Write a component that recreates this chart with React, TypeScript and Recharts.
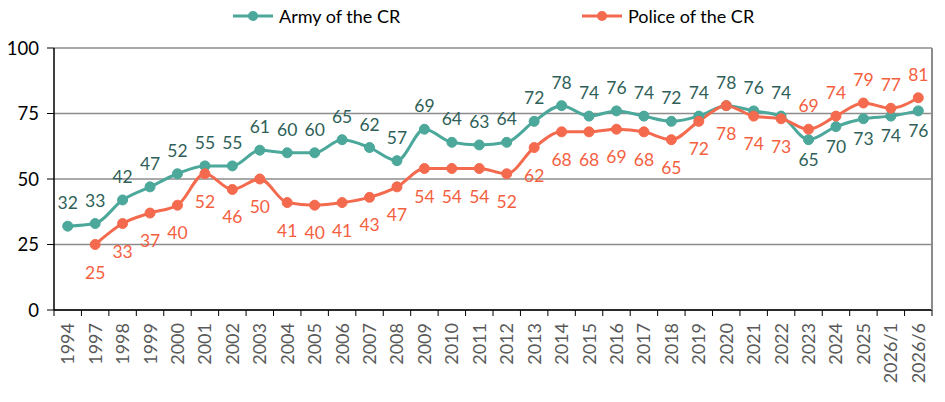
import React from "react";
import {
  LineChart,
  Line,
  XAxis,
  YAxis,
  CartesianGrid,
} from "recharts";

const years = [
  "1994", "1997", "1998", "1999", "2000", "2001", "2002", "2003", "2004",
  "2005", "2006", "2007", "2008", "2009", "2010", "2011", "2012", "2013",
  "2014", "2015", "2016", "2017", "2018", "2019", "2020", "2021", "2022",
  "2023", "2024", "2025", "2026/1", "2026/6",
];

const army = [
  32, 33, 42, 47, 52, 55, 55, 61, 60, 60, 65, 62, 57, 69, 64, 63, 64, 72,
  78, 74, 76, 74, 72, 74, 78, 76, 74, 65, 70, 73, 74, 76,
];

const police: (number | null)[] = [
  null, 25, 33, 37, 40, 52, 46, 50, 41, 40, 41, 43, 47, 54, 54, 54, 52, 62,
  68, 68, 69, 68, 65, 72, 78, 74, 73, 69, 74, 79, 77, 81,
];

const yTicks = [0, 25, 50, 75, 100];

const data = years.map((year, i) => ({
  year,
  army: army[i],
  police: police[i],
}));

const W = 945;
const H = 402;
const PLOT = { top: 48, right: 13, bottom: 92, left: 54 };
const BAND = (W - PLOT.left - PLOT.right) / years.length;
const AXIS_Y = H - PLOT.bottom;

const TEAL = "#4BA89B";
const TEAL_TEXT = "#2F5F58";
const ORANGE = "#F46A4E";
const ORANGE_TEXT = "#F4603F";
const FONT = "Lato, 'Open Sans', sans-serif";

function armyAbove(i: number) {
  const p = police[i];
  return p == null || army[i] >= p;
}

const ArmyLabel = (props: any) => {
  const { x, y, index, value } = props;
  const above = armyAbove(index);
  return (
    <text
      x={x}
      y={above ? y - 17 : y + 26}
      textAnchor="middle"
      fill={TEAL_TEXT}
      fontSize={17.5}
      fontFamily={FONT}
    >
      {value}
    </text>
  );
};

const PoliceLabel = (props: any) => {
  const { x, y, index, value } = props;
  if (value == null) return null;
  const above = !armyAbove(index);
  return (
    <text
      x={x}
      y={above ? y - 17 : y + 34}
      textAnchor="middle"
      fill={ORANGE_TEXT}
      fontSize={17.5}
      fontFamily={FONT}
    >
      {value}
    </text>
  );
};

const YearTick = (props: any) => {
  const { x, payload, index } = props;
  return (
    <g>
      {index === 0 && (
        <line x1={x - BAND / 2} x2={x - BAND / 2} y1={AXIS_Y} y2={AXIS_Y + 6} stroke="#000" />
      )}
      <line x1={x + BAND / 2} x2={x + BAND / 2} y1={AXIS_Y} y2={AXIS_Y + 6} stroke="#000" />
      <text
        transform={`translate(${x + 6.5},${AXIS_Y + 13}) rotate(-90)`}
        textAnchor="end"
        fill="#595959"
        fontSize={18}
        fontFamily={FONT}
      >
        {payload.value}
      </text>
    </g>
  );
};

const legendItems = [
  { name: "Army of the CR", color: TEAL, left: 233 },
  { name: "Police of the CR", color: ORANGE, left: 582 },
];

export default function App() {
  return (
    <div style={{ position: "absolute", left: 0, top: 0, width: W, height: H, background: "#fff" }}>
      <LineChart
        width={W}
        height={H}
        data={data}
        margin={{ top: PLOT.top, right: PLOT.right - 1, bottom: 0, left: 0 }}
      >
        <CartesianGrid vertical={false} stroke="#8c8c8c" strokeWidth={1.3} />
        <XAxis
          dataKey="year"
          interval={0}
          tickLine={false}
          padding={{ left: BAND / 2, right: BAND / 2 }}
          axisLine={{ stroke: "#000", strokeWidth: 1.5 }}
          tick={<YearTick />}
          height={PLOT.bottom}
        />
        <YAxis
          domain={[0, 100]}
          ticks={yTicks}
          interval={0}
          width={PLOT.left}
          axisLine={{ stroke: "#000", strokeWidth: 1.5 }}
          tickLine={{ stroke: "#000" }}
          tickSize={7}
          tickMargin={8}
          tick={{ fill: "#000", fontSize: 18.5, fontFamily: FONT }}
        />
        <YAxis
          yAxisId="right"
          orientation="right"
          domain={[0, 100]}
          width={1}
          tick={false}
          tickLine={false}
          axisLine={{ stroke: "#8c8c8c", strokeWidth: 2 }}
        />
        <Line
          type="monotone"
          dataKey="army"
          stroke={TEAL}
          strokeWidth={3}
          dot={{ r: 5, fill: TEAL, stroke: TEAL, strokeWidth: 1 }}
          label={<ArmyLabel />}
          isAnimationActive={false}
        />
        <Line
          type="monotone"
          dataKey="police"
          stroke={ORANGE}
          strokeWidth={3}
          dot={{ r: 5, fill: ORANGE, stroke: ORANGE, strokeWidth: 1 }}
          label={<PoliceLabel />}
          isAnimationActive={false}
        />
      </LineChart>
      {legendItems.map((item) => (
        <div
          key={item.name}
          style={{
            position: "absolute",
            left: item.left,
            top: 4,
            display: "flex",
            alignItems: "center",
            fontFamily: FONT,
            fontSize: 18,
            color: "#000",
          }}
        >
          <svg width={42} height={24}>
            <line x1={0} x2={40} y1={12} y2={12} stroke={item.color} strokeWidth={3} />
            <circle cx={20} cy={12} r={5} fill={item.color} />
          </svg>
          <span style={{ marginLeft: 4 }}>{item.name}</span>
        </div>
      ))}
    </div>
  );
}
